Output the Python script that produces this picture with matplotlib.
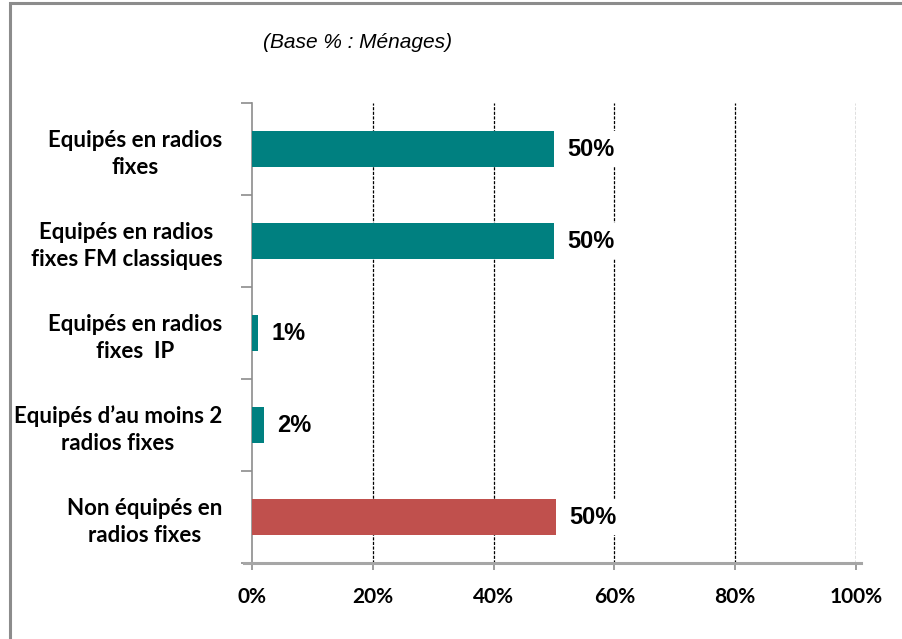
import matplotlib
matplotlib.use("Agg")
import matplotlib.pyplot as plt
from matplotlib.patches import Rectangle

# données
categories = [
    "Equipés en radios\nfixes",
    "Equipés en radios\nfixes FM classiques",
    "Equipés en radios\nfixes  IP",
    "Equipés d\u2019au moins 2\nradios fixes",
    "Non équipés en\nradios fixes",
]
values = [50, 50, 1, 2, 50.4]
value_labels = ["50%", "50%", "1%", "2%", "50%"]
bar_colors = ["#008080", "#008080", "#008080", "#008080", "#C0504D"]
x_ticks = [0, 20, 40, 60, 80, 100]
x_tick_labels = ["0%", "20%", "40%", "60%", "80%", "100%"]
subtitle = "(Base % : Ménages)"

fig = plt.figure(figsize=(9.02, 6.39), dpi=100)
ax = fig.add_axes([252 / 902, 1 - 563 / 639, 604 / 902, 460 / 639])

# cadre gris autour de la figure (seuls les bords haut et gauche sont visibles)
fig.patches.append(Rectangle((10 / 902, -0.05), 1.2, 1 - 3 / 639 + 0.05,
                             transform=fig.transFigure, fill=False,
                             edgecolor="#8c8c8c", linewidth=2.2))

n = len(categories)
ypos = list(range(n))
ax.barh(ypos, values, height=0.4, color=bar_colors, zorder=3)
ax.set_ylim(n - 0.5, -0.5)
ax.set_xlim(0, 100)

# grille verticale pointillée
for x in x_ticks[1:]:
    ax.axvline(x, color="black", linestyle=(0, (2.5, 1.2)), linewidth=0.9, zorder=1)

for y, v, lab in zip(ypos, values, value_labels):
    ax.text(v + 2.2, y, lab, ha="left", va="center", fontsize=17,
            fontweight="bold", family="Liberation Sans", zorder=4,
            bbox=dict(facecolor="white", edgecolor="none", pad=5))

ax.set_yticks(ypos)
ax.set_yticklabels(categories, fontsize=16, fontweight="bold", family="Lato",
                   multialignment="center", linespacing=1.35)
ax.set_yticks([i - 0.5 for i in range(n + 1)], minor=True)
ax.tick_params(axis="y", which="major", length=0, pad=21.5)
ax.tick_params(axis="y", which="minor", length=8, color="#8c8c8c", width=1.2)

ax.set_xticks(x_ticks)
ax.set_xticklabels(x_tick_labels, fontsize=15, fontweight="bold", family="Lato")
ax.tick_params(axis="x", length=5, color="#8c8c8c", width=1.2, pad=12)

for s in ["top", "right"]:
    ax.spines[s].set_visible(False)
ax.spines["left"].set_color("#8c8c8c")
ax.spines["left"].set_linewidth(1.2)
ax.spines["bottom"].set_color("#a6a6a6")
ax.spines["bottom"].set_linewidth(2.2)
ax.spines["bottom"].set_bounds(-1.3, 100.8)

fig.text(358 / 902, 1 - 42.5 / 639, subtitle, ha="center", va="center",
         fontsize=15, style="italic", family="Liberation Sans")

fig.savefig("out.png", dpi=100, facecolor="white")
